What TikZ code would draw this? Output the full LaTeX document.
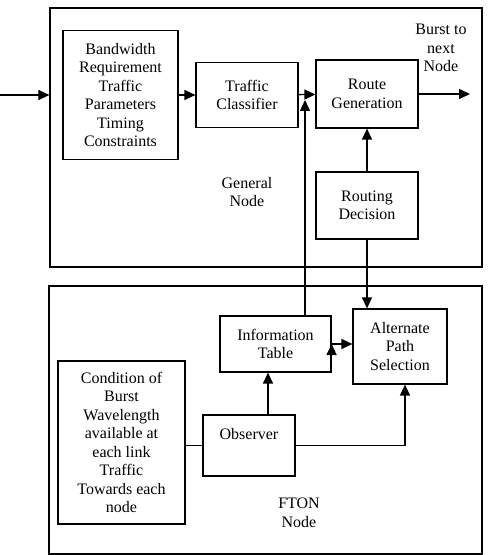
\documentclass[tikz,border=0pt]{standalone}
\usepackage{fontspec}
\setmainfont{Liberation Serif}
\usetikzlibrary{arrows.meta}

\begin{document}
\begin{tikzpicture}[x=0.5pt,y=-0.5pt,>={Triangle[length=5.5pt,width=5pt]},
                font=\fontsize{8}{9.25}\selectfont]
                \useasboundingbox (0,0) rectangle (487,555);

                % the two outer blocks
                \begin{scope}[every node/.style={draw,line width=0.6pt,inner sep=0pt}]
                \node[minimum width=216pt,minimum height=129.5pt] (gen) at (266,137.5) {};
                \node[minimum width=216.5pt,minimum height=134pt] (fton) at (265.5,420) {};
                \end{scope}

                \begin{scope}[every node/.style={draw,line width=0.6pt,align=center,inner sep=1pt}]
                \node[minimum width=57.5pt,minimum height=64.5pt] (bw) at (120.5,95) {Bandwidth\\Requirement\\Traffic\\Parameters\\Timing\\Constraints};
                \node[minimum width=51pt,minimum height=32.5pt] (tc) at (247,95) {Traffic\\Classifier};
                \node[minimum width=51pt,minimum height=34pt] (rg) at (367,94) {Route\\Generation};
                \node[minimum width=51pt,minimum height=33.5pt] (rd) at (367,205.5) {Routing\\Decision};
                \node[minimum width=55.5pt,minimum height=28pt] (it) at (275.5,344) {Information\\Table};
                \node[minimum width=47pt,minimum height=37.5pt] (aps) at (400,346.5) {Alternate\\Path\\Selection};
                \node[minimum width=63.5pt,minimum height=81.5pt] (cond) at (121.5,442.5) {Condition of\\Burst\\Wavelength\\available at\\each link\\Traffic\\Towards each\\node};
                \node[minimum width=46pt,minimum height=30.5pt] (obs) at (249,445.5) {Observer\\[2pt]\mbox{}};
                \end{scope}

                \begin{scope}[every node/.style={align=center}]
                \node (lgen) at (247,192) {General\\Node};
                \node (lfton) at (299,513) {FTON\\Node};
                \node (lout) at (441,48) {Burst to\\next\\Node};
                \end{scope}

                \coordinate (in) at (0,95);
                \coordinate (out) at (470,94);
                \coordinate (join) at (305,100);

                \path[->,draw,line width=0.7pt]
                (in) edge (in -| gen.west)
                (bw) edge (tc)
                (tc) edge (rg)
                (rg) edge (out)
                (rd) edge (rg)
                (rd.south) edge (rd.south |- aps.north)
                (join |- it.north) edge (join)
                (it.east) edge (it.east -| aps.west);

                \draw[line width=0.7pt] (obs.west -| cond.east) -- (obs.west);
                \draw[->,line width=0.7pt] ([xshift=9.5pt]obs.north) -- ([xshift=9.5pt]obs.north |- it.south);
                \draw[->,line width=0.7pt] (obs.east) -| ([xshift=2.5pt]aps.south);
                \end{tikzpicture}
\end{document}
